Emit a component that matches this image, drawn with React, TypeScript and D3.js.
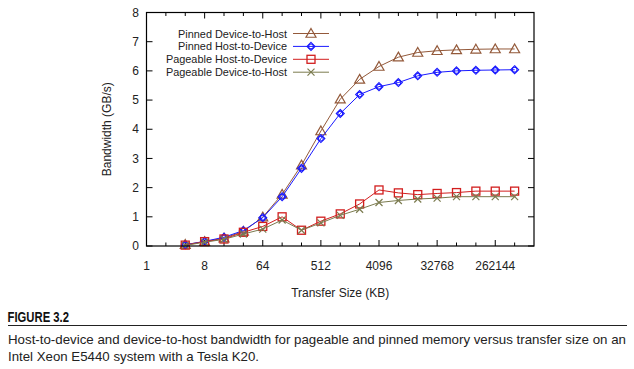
import * as d3 from "d3";

const sizes = [4, 8, 16, 32, 64, 128, 256, 512, 1024, 2048, 4096, 8192, 16384, 32768, 65536, 131072, 262144, 524288];
const pinnedD2H = [0.05, 0.15, 0.27, 0.5, 0.99, 1.77, 2.77, 3.94, 5.03, 5.71, 6.15, 6.47, 6.63, 6.69, 6.72, 6.74, 6.75, 6.75];
const pinnedH2D = [0.04, 0.16, 0.3, 0.53, 0.97, 1.69, 2.66, 3.68, 4.54, 5.19, 5.46, 5.6, 5.83, 5.95, 6.0, 6.02, 6.03, 6.04];
const pageableH2D = [0.03, 0.15, 0.24, 0.47, 0.67, 1.0, 0.54, 0.85, 1.1, 1.44, 1.92, 1.82, 1.76, 1.8, 1.83, 1.88, 1.88, 1.88];
const pageableD2H = [0.02, 0.13, 0.23, 0.41, 0.58, 0.89, 0.54, 0.79, 1.05, 1.26, 1.49, 1.56, 1.61, 1.64, 1.69, 1.69, 1.69, 1.69];

const xTickLabels = [1, 8, 64, 512, 4096, 32768, 262144];
const yTicks = [0, 1, 2, 3, 4, 5, 6, 7, 8];

const series = [
  { name: "Pinned Device-to-Host", values: pinnedD2H, color: "#93593a", marker: "triangle" },
  { name: "Pinned Host-to-Device", values: pinnedH2D, color: "#1a1aff", marker: "diamond" },
  { name: "Pageable Host-to-Device", values: pageableH2D, color: "#d21e1e", marker: "square" },
  { name: "Pageable Device-to-Host", values: pageableD2H, color: "#7b7b4f", marker: "cross" },
];

const left = 146.5;
const right = 534;
const top = 12.5;
const bottom = 246;

const x = d3.scaleLog().base(2).domain([1, 2 ** 20]).range([left, right]);
const y = d3.scaleLinear().domain([0, 8]).range([bottom, top]);
const minorTicks = d3.range(1, 20).map((k) => 2 ** k);

const font = "'Liberation Sans', Arial, sans-serif";
const capFont = "'Liberation Sans', Arial, sans-serif";

function Marker({ type, cx, cy, color }: { type: string; cx: number; cy: number; color: string }) {
  if (type === "triangle") {
    const s = 5;
    return (
      <path
        d={`M${cx},${cy - s}L${cx + s},${cy + s * 0.75}L${cx - s},${cy + s * 0.75}Z`}
        fill="none"
        stroke={color}
        strokeWidth={1.2}
      />
    );
  }
  if (type === "diamond") {
    const s = 4;
    return (
      <g fill="none" stroke={color} strokeWidth={1.1}>
        <path d={`M${cx},${cy - s}L${cx + s},${cy}L${cx},${cy + s}L${cx - s},${cy}Z`} />
        <circle cx={cx} cy={cy} r={2.4} />
      </g>
    );
  }
  if (type === "square") {
    const s = 4;
    return <rect x={cx - s} y={cy - s} width={2 * s} height={2 * s} fill="none" stroke={color} strokeWidth={1.3} />;
  }
  const s = 3.5;
  return (
    <path
      d={`M${cx - s},${cy - s}L${cx + s},${cy + s}M${cx - s},${cy + s}L${cx + s},${cy - s}`}
      stroke={color}
      strokeWidth={1.2}
    />
  );
}

export default function App() {
  const line = d3
    .line<number>()
    .x((_, i) => x(sizes[i]))
    .y((d) => y(d));

  return (
    <svg width={634} height={369} style={{ position: "absolute", left: 0, top: 0, background: "#fff" }}>
      {/* ticks */}
      <g stroke="#000" strokeWidth={1}>
        {minorTicks.map((t) => {
          const major = xTickLabels.includes(t);
          const len = major ? 6 : 3.5;
          return (
            <g key={t}>
              <line x1={x(t)} x2={x(t)} y1={bottom} y2={bottom - len} />
              <line x1={x(t)} x2={x(t)} y1={top} y2={top + len} />
            </g>
          );
        })}
        {yTicks.map((t) => (
          <g key={t}>
            <line x1={left} x2={left + 6} y1={y(t)} y2={y(t)} />
            <line x1={right} x2={right - 6} y1={y(t)} y2={y(t)} />
          </g>
        ))}
      </g>

      {/* tick labels */}
      <g fontFamily={font} fontSize={12} fill="#222">
        {xTickLabels.map((t) => (
          <text key={t} x={x(t)} y={269.5} textAnchor="middle">
            {t}
          </text>
        ))}
        {yTicks.map((t) => (
          <text key={t} x={139} y={y(t) + 4.2} textAnchor="end">
            {t}
          </text>
        ))}
      </g>

      <text x={(left + right) / 2} y={297} textAnchor="middle" fontFamily={font} fontSize={12} fill="#222">
        Transfer Size (KB)
      </text>
      <text
        transform={`translate(111,${(top + bottom) / 2}) rotate(-90)`}
        textAnchor="middle"
        fontFamily={font}
        fontSize={12}
        fill="#222"
      >
        Bandwidth (GB/s)
      </text>

      {/* series */}
      {series.map((s) => (
        <g key={s.name}>
          <path d={line(s.values) ?? ""} fill="none" stroke={s.color} strokeWidth={1} />
          {s.values.map((v, i) => (
            <Marker key={i} type={s.marker} cx={x(sizes[i])} cy={y(v)} color={s.color} />
          ))}
        </g>
      ))}

      {/* legend */}
      {series.map((s, i) => {
        const ly = 33.5 + i * 12.9;
        return (
          <g key={s.name}>
            <text x={287} y={ly + 4} textAnchor="end" fontFamily={font} fontSize={10.9} fill="#222">
              {s.name}
            </text>
            <line x1={293} x2={329} y1={ly} y2={ly} stroke={s.color} strokeWidth={1} />
            <Marker type={s.marker} cx={311} cy={ly} color={s.color} />
          </g>
        );
      })}

      {/* frame */}
      <rect x={left} y={top} width={right - left} height={bottom - top} fill="none" stroke="#000" strokeWidth={1.2} />

      {/* caption */}
      <text
        x={7.5}
        y={322.3}
        fontFamily={capFont}
        fontWeight="bold"
        fontSize={14}
        fill="#111"
        textLength={61.5}
        lengthAdjust="spacingAndGlyphs"
      >
        FIGURE 3.2
      </text>
      <line x1={8} x2={627} y1={325.5} y2={325.5} stroke="#222" strokeWidth={1.2} />
      <text
        x={8}
        y={344}
        fontFamily={capFont}
        fontSize={13.5}
        fill="#222"
        textLength={618}
        lengthAdjust="spacingAndGlyphs"
      >
        Host-to-device and device-to-host bandwidth for pageable and pinned memory versus transfer size on an
      </text>
      <text
        x={8}
        y={360.5}
        fontFamily={capFont}
        fontSize={13.5}
        fill="#222"
        textLength={251}
        lengthAdjust="spacingAndGlyphs"
      >
        Intel Xeon E5440 system with a Tesla K20.
      </text>
    </svg>
  );
}
